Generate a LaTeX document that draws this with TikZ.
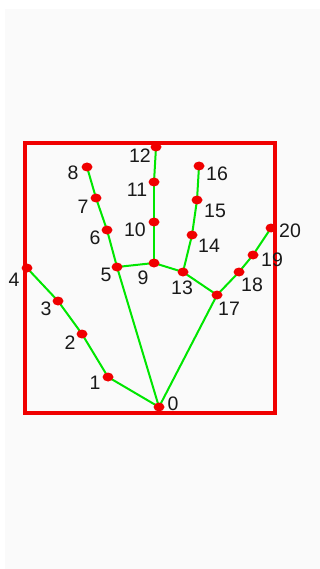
\documentclass[tikz,border=0pt]{standalone}
\usepackage{fontspec}
\setmainfont{Liberation Sans}
\usetikzlibrary{shapes.geometric, backgrounds}
\definecolor{HandRed}{RGB}{240,0,0}
\definecolor{HandGreen}{RGB}{0,230,0}
\definecolor{ScreenGray}{RGB}{250,250,250}

\begin{document}
\begin{tikzpicture}[x=1pt, y=-1pt,
          joint/.style={ellipse, fill=HandRed, draw=none, inner sep=0pt,
                        minimum width=11pt, minimum height=9pt},
          bone/.style={HandGreen, line width=2pt, line cap=round},
          frame/.style={HandRed, line width=4.5pt},
          num/.style={font=\fontsize{19.5}{19.5}\selectfont, inner sep=0pt,
                      text=black!90}
        ]
        \useasboundingbox (0,0) rectangle (320,569);

        % Screen and bounding box of the hand
        \begin{scope}[on background layer]
          \fill[white] (0,0) rectangle (320,569);
          \fill[ScreenGray] (5,9) rectangle (320,569);
          \draw[frame] (25,143) rectangle (275,413);
        \end{scope}

        % Keypoints
        \foreach \i/\x/\y in {0/159/407, 1/108/377, 2/82/334, 3/58/301,
                              4/27/268, 5/117/267, 6/107/230, 7/96/198,
                              8/87/167, 9/154/263, 10/154/222, 11/154/182,
                              12/156/147, 13/183/272, 14/192/235, 15/197/200,
                              16/199/166, 17/217/295, 18/239/272, 19/253/255,
                              20/271/228} {
          \node[joint] (p\i) at (\x,\y) {};
        }

        % Skeleton, under the keypoints
        \begin{scope}[on background layer]
          \foreach \a/\b in {0/1, 1/2, 2/3, 3/4, 0/5, 5/6, 6/7, 7/8,
                             5/9, 9/10, 10/11, 11/12, 9/13, 13/14, 14/15,
                             15/16, 13/17, 0/17, 17/18, 18/19, 19/20}
            \draw[bone] (p\a.center) -- (p\b.center);
        \end{scope}

        % Keypoint numbers
        \foreach \i/\x/\y in {0/173/404, 1/95/383, 2/70/343, 3/46/309,
                              4/14/280, 5/106/275, 6/95/238, 7/83/207,
                              8/73/173, 9/143/278, 10/135/230, 11/137/190,
                              12/140/156, 13/182/288, 14/209/246, 15/215/211,
                              16/217/174, 17/229/309, 18/252/285, 19/272/260,
                              20/290/231} {
          \node[num] (n\i) at (\x,\y) {\i};
        }
      \end{tikzpicture}
\end{document}
